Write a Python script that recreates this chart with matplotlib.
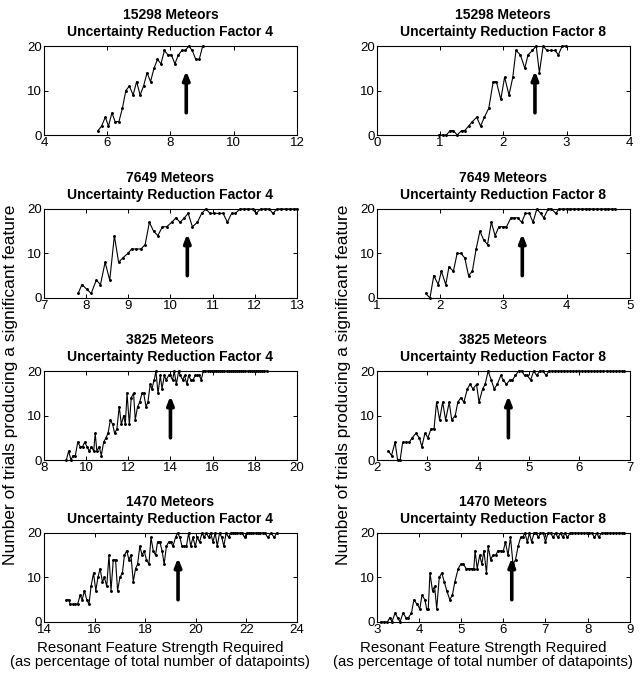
import matplotlib
matplotlib.use('Agg')
import matplotlib.pyplot as plt

plt.rc('font', family='Liberation Sans', size=9)

# panel 1: 15298 meteors, factor 4
x1 = [5.71, 5.82, 5.94, 6.04, 6.15, 6.25, 6.37, 6.48, 6.59, 6.70, 6.82, 6.93, 7.04, 7.15, 7.26, 7.37,
      7.48, 7.59, 7.70, 7.81, 7.92, 8.03, 8.14, 8.25, 8.36, 8.47, 8.58, 8.69, 8.80, 8.91, 9.02]
y1 = [1, 2, 4, 2, 5, 3, 3, 6, 10, 11, 9, 12, 9, 11, 14, 12,
      15, 17, 16, 19, 18, 18, 16, 18, 19, 19, 20, 19, 17, 17, 20]

# panel 2: 15298 meteors, factor 8
x2 = [0.98, 1.04, 1.10, 1.16, 1.21, 1.27, 1.34, 1.39, 1.45, 1.51, 1.58, 1.64, 1.70, 1.77, 1.84, 1.89,
      1.96, 2.02, 2.09, 2.15, 2.20, 2.27, 2.34, 2.39, 2.46, 2.52, 2.57, 2.63, 2.69, 2.76, 2.82, 2.87,
      2.93, 2.99]
y2 = [0, 0, 0, 1, 1, 0, 1, 1, 2, 3, 4, 2, 4, 6, 12, 12,
      8, 13, 9, 13, 19, 18, 15, 18, 19, 20, 14, 20, 19, 19, 19, 18,
      20, 20]

# panel 3: 7649 meteors, factor 4
x3 = [7.81, 7.90, 8.01, 8.12, 8.24, 8.34, 8.45, 8.56, 8.67, 8.77, 8.87, 8.99, 9.08, 9.19, 9.30, 9.40,
      9.50, 9.60, 9.70, 9.81, 9.91, 10.03, 10.13, 10.23, 10.33, 10.42, 10.52, 10.64, 10.74, 10.84, 10.94,
      11.04, 11.14, 11.25, 11.35, 11.45, 11.54, 11.65, 11.75, 11.85, 11.95, 12.03, 12.14, 12.24, 12.34,
      12.43, 12.53, 12.63, 12.73, 12.83, 12.93, 13.00]
y3 = [1, 3, 2, 1, 4, 3, 8, 4, 14, 8, 9, 10, 11, 11, 11, 12,
      17, 15, 14, 16, 16, 17, 18, 17, 18, 19, 16, 17, 19, 20, 19,
      19, 19, 19, 17, 19, 19, 20, 20, 20, 20, 19, 20, 20, 20,
      19, 20, 20, 20, 20, 20, 20]

# panel 4: 7649 meteors, factor 8
x4 = [1.77, 1.84, 1.90, 1.97, 2.02, 2.09, 2.14, 2.21, 2.27, 2.33, 2.39, 2.45, 2.51, 2.57, 2.63, 2.69,
      2.75, 2.81, 2.87, 2.93, 2.99, 3.05, 3.12, 3.17, 3.23, 3.29, 3.35, 3.41, 3.47, 3.53, 3.59, 3.64,
      3.71, 3.76, 3.83, 3.88, 3.94, 4.00, 4.06, 4.12, 4.18, 4.24, 4.30, 4.36, 4.42, 4.48, 4.54, 4.60,
      4.66, 4.72, 4.77]
y4 = [1, 0, 5, 3, 6, 3, 7, 6, 10, 10, 9, 5, 6, 11, 15, 13,
      12, 17, 14, 16, 16, 16, 18, 18, 18, 17, 19, 19, 17, 20, 19, 18,
      20, 20, 19, 20, 20, 20, 20, 20, 20, 20, 20, 20, 20, 20, 20, 20,
      20, 20, 20]

# panel 5: 3825 meteors, factor 4
x5 = [9.06, 9.17, 9.28, 9.38, 9.49, 9.60, 9.72, 9.83, 9.93, 10.04, 10.15, 10.25, 10.36, 10.43, 10.51,
      10.62, 10.72, 10.83, 10.94, 11.04, 11.15, 11.26, 11.35, 11.46, 11.57, 11.67, 11.78, 11.86, 11.94,
      12.05, 12.14, 12.25, 12.33, 12.44, 12.54, 12.65, 12.73, 12.84, 12.93, 13.04, 13.12, 13.23, 13.31,
      13.41, 13.52, 13.60, 13.71, 13.80, 13.91, 13.99, 14.10, 14.18, 14.28, 14.39, 14.47, 14.58, 14.67,
      14.78, 14.86, 14.97, 15.07, 15.18, 15.26, 15.37, 15.46, 15.56, 15.66, 15.76, 15.86, 15.96, 16.06,
      16.16, 16.26, 16.36, 16.46, 16.56, 16.66, 16.76, 16.86, 16.96, 17.06, 17.16, 17.26, 17.36, 17.46,
      17.56, 17.66, 17.76, 17.86, 17.96, 18.06, 18.16, 18.26, 18.36, 18.46, 18.56]
y5 = [0, 2, 0, 1, 1, 4, 3, 3, 4, 3, 2, 3, 2, 6, 2,
      3, 1, 4, 5, 6, 9, 8, 6, 7, 12, 8, 10, 8, 15,
      8, 14, 15, 9, 12, 13, 15, 15, 12, 13, 17, 16, 18, 20,
      15, 19, 16, 19, 18, 19, 19, 18, 20, 17, 20, 19, 18, 19,
      17, 19, 18, 18, 19, 19, 19, 18, 20, 20, 20, 20, 20, 20,
      20, 20, 20, 20, 20, 20, 20, 20, 20, 20, 20, 20, 20, 20,
      20, 20, 20, 20, 20, 20, 20, 20, 20, 20, 20]

# panel 6: 3825 meteors, factor 8
x6 = [2.23, 2.29, 2.36, 2.41, 2.46, 2.51, 2.57, 2.64, 2.70, 2.77, 2.84, 2.89, 2.95, 3.01, 3.07, 3.13,
      3.18, 3.24, 3.30, 3.36, 3.43, 3.48, 3.55, 3.60, 3.66, 3.72, 3.79, 3.84, 3.90, 3.97, 4.02, 4.09,
      4.14, 4.20, 4.26, 4.32, 4.38, 4.45, 4.50, 4.56, 4.63, 4.68, 4.74, 4.80, 4.86, 4.92, 4.97, 5.04,
      5.10, 5.16, 5.22, 5.28, 5.35, 5.40, 5.46, 5.52, 5.58, 5.64, 5.70, 5.76, 5.82, 5.88, 5.94, 6.00,
      6.06, 6.12, 6.18, 6.24, 6.30, 6.36, 6.42, 6.48, 6.54, 6.60, 6.66, 6.72, 6.78, 6.84, 6.88]
y6 = [2, 1, 4, 0, 0, 4, 4, 4, 5, 6, 5, 3, 6, 5, 7, 7,
      13, 9, 13, 9, 13, 9, 10, 13, 14, 13, 16, 17, 16, 17, 13, 16,
      17, 20, 18, 16, 17, 19, 18, 17, 18, 18, 19, 20, 20, 19, 19, 18,
      20, 19, 20, 20, 19, 20, 20, 20, 20, 20, 20, 20, 20, 20, 20, 20,
      20, 20, 20, 20, 20, 20, 20, 20, 20, 20, 20, 20, 20, 20, 20]

# panel 7: 1470 meteors, factor 4
x7 = [14.88, 14.97, 15.04, 15.14, 15.23, 15.33, 15.43, 15.51, 15.60, 15.69, 15.78, 15.86, 15.96, 16.05,
      16.13, 16.22, 16.31, 16.39, 16.48, 16.57, 16.65, 16.74, 16.83, 16.91, 17.00, 17.10, 17.18, 17.27,
      17.36, 17.44, 17.53, 17.62, 17.70, 17.79, 17.88, 17.96, 18.05, 18.15, 18.23, 18.32, 18.41, 18.49,
      18.58, 18.67, 18.75, 18.84, 18.93, 19.01, 19.10, 19.20, 19.28, 19.37, 19.46, 19.54, 19.63, 19.72,
      19.80, 19.89, 19.98, 20.06, 20.15, 20.25, 20.33, 20.42, 20.51, 20.59, 20.68, 20.77, 20.85, 20.94,
      21.03, 21.11, 21.20, 21.30, 21.38, 21.47, 21.56, 21.65, 21.74, 21.83, 21.93, 22.01, 22.10, 22.19,
      22.28, 22.37, 22.46, 22.55, 22.64, 22.73, 22.85, 22.98, 23.10, 23.20]
y7 = [5, 5, 4, 4, 4, 4, 6, 5, 7, 5, 4, 8, 11, 7,
      10, 12, 9, 10, 8, 15, 7, 14, 14, 7, 10, 11, 15, 16,
      14, 15, 9, 12, 13, 17, 15, 16, 14, 13, 19, 16, 15, 18,
      18, 16, 13, 17, 18, 18, 17, 19, 20, 19, 17, 17, 17, 20,
      17, 19, 17, 19, 18, 20, 19, 20, 19, 20, 18, 20, 17, 20,
      19, 17, 20, 19, 20, 20, 20, 20, 20, 20, 19, 20, 20, 20,
      20, 20, 20, 20, 20, 20, 19, 20, 19, 20]

# panel 8: 1470 meteors, factor 8
x8 = [3.09, 3.17, 3.25, 3.31, 3.36, 3.43, 3.49, 3.55, 3.62, 3.69, 3.75, 3.82, 3.88, 3.95, 4.02, 4.07,
      4.14, 4.18, 4.22, 4.26, 4.32, 4.37, 4.42, 4.48, 4.54, 4.60, 4.66, 4.73, 4.79, 4.85, 4.93, 4.99,
      5.05, 5.12, 5.19, 5.25, 5.30, 5.33, 5.38, 5.44, 5.49, 5.54, 5.60, 5.64, 5.70, 5.75, 5.82, 5.87,
      5.94, 6.00, 6.05, 6.11, 6.17, 6.23, 6.29, 6.35, 6.41, 6.46, 6.51, 6.57, 6.62, 6.67, 6.73, 6.78,
      6.83, 6.88, 6.95, 7.00, 7.06, 7.12, 7.18, 7.24, 7.29, 7.36, 7.41, 7.46, 7.52, 7.58, 7.63, 7.70,
      7.77, 7.84, 7.91, 7.98, 8.04, 8.10, 8.16, 8.22, 8.26, 8.33, 8.40, 8.47, 8.54, 8.61, 8.68, 8.75,
      8.82, 8.87]
y8 = [0, 0, 0, 1, 0, 2, 1, 0, 2, 1, 1, 2, 5, 4, 3, 6,
      5, 3, 3, 11, 7, 8, 3, 10, 11, 9, 7, 5, 6, 9, 12, 13,
      13, 12, 12, 12, 12, 16, 12, 15, 13, 16, 11, 17, 14, 15, 15, 16,
      16, 16, 18, 15, 19, 13, 14, 17, 19, 19, 20, 18, 20, 18, 20, 20,
      19, 20, 20, 18, 20, 20, 19, 20, 19, 20, 19, 20, 19, 20, 20, 20,
      20, 20, 20, 20, 20, 20, 19, 20, 19, 20, 20, 20, 20, 20, 20, 20,
      20, 20]

series = [(x1, y1), (x2, y2), (x3, y3), (x4, y4), (x5, y5), (x6, y6), (x7, y7), (x8, y8)]
meteors = ['15298', '15298', '7649', '7649', '3825', '3825', '1470', '1470']
factors = [4, 8, 4, 8, 4, 8, 4, 8]
arrow_x = [8.5, 2.5, 10.4, 3.3, 14.0, 4.6, 19.3, 6.2]
xlims = [(4, 12), (0, 4), (7, 13), (1, 5), (8, 20), (2, 7), (14, 24), (3, 9)]
xticks = [[4, 6, 8, 10, 12], [0, 1, 2, 3, 4], [7, 8, 9, 10, 11, 12, 13], [1, 2, 3, 4, 5],
          [8, 10, 12, 14, 16, 18, 20], [2, 3, 4, 5, 6, 7], [14, 16, 18, 20, 22, 24],
          [3, 4, 5, 6, 7, 8, 9]]

fig = plt.figure(figsize=(6.42, 6.74), dpi=100)

lefts = [0.0685, 0.587]
bottoms = [0.7997, 0.558, 0.3175, 0.0772]
xlabel_x = [0.458, 0.42]

for i, (xs, ys) in enumerate(series):
    row, col = divmod(i, 2)
    ax = fig.add_axes([lefts[col], bottoms[row], 0.394, 0.132])
    ax.plot(xs, ys, color='k', lw=0.8, marker='.', markersize=2.2, clip_on=False)
    ax.annotate('', xy=(arrow_x[i], 14.4), xytext=(arrow_x[i], 5),
                arrowprops=dict(arrowstyle='-|>,head_width=0.22,head_length=0.55',
                                lw=2.6, color='k', shrinkA=0, shrinkB=0))
    ax.set_xlim(*xlims[i])
    ax.set_ylim(0, 20)
    ax.set_xticks(xticks[i])
    ax.set_yticks([0, 10, 20])
    ax.tick_params(direction='in', top=True, right=True, length=3, width=0.7, labelsize=9.5, pad=1.5)
    for s in ax.spines.values():
        s.set_linewidth(0.8)
    ax.set_title(f'{meteors[i]} Meteors\nUncertainty Reduction Factor {factors[i]}',
                 fontweight='bold', fontsize=10, linespacing=1.3, pad=7)
    if row == 3:
        ax.set_xlabel('Resonant Feature Strength Required\n(as percentage of total number of datapoints)',
                      fontsize=10.8, linespacing=1.0)
        ax.xaxis.set_label_coords(xlabel_x[col], -0.215, transform=ax.transAxes)
        ax.xaxis.label.set_va('top')

for xpos in [0.017, 0.535]:
    fig.text(xpos, 0.429, 'Number of trials producing a significant feature',
             rotation=90, ha='center', va='center', fontsize=12.5)

fig.savefig('out.png', dpi=100)
